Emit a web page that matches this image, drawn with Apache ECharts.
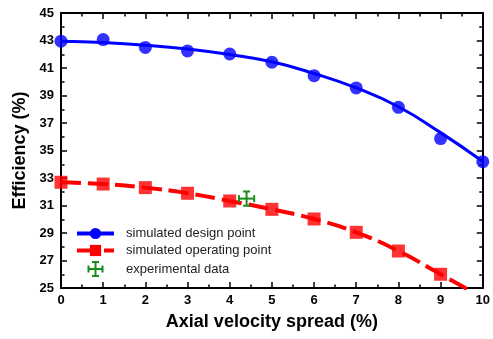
<!DOCTYPE html>
<html>
<head>
<meta charset="utf-8">
<script src="https://cdn.jsdelivr.net/npm/echarts@6/dist/echarts.min.js"></script>
<style>
  html, body { margin: 0; padding: 0; background: #fff; }
  #chart { width: 493px; height: 339px; }
</style>
</head>
<body>
<div id="chart"></div>
<script>
const spread = [0, 1, 2, 3, 4, 5, 6, 7, 8, 9, 10];
const designPoints = [42.95, 43.07, 42.5, 42.24, 42.02, 41.42, 40.44, 39.55, 38.14, 35.87, 34.19];
const designFit = [42.95, 42.85, 42.66, 42.38, 41.98, 41.45, 40.6, 39.55, 38.18, 36.3, 34.2];
const operatingPoints = [32.69, 32.56, 32.3, 31.89, 31.33, 30.72, 30.02, 29.05, 27.69, 26.0];
const operatingLine = [32.69, 32.56, 32.3, 31.89, 31.33, 30.72, 30.02, 29.05, 27.69, 26.0, 24.3];
// [x, y, x error, y error]
const experimental = [[4.4, 31.5, 0.18, 0.52]];

const FONT = '"Liberation Sans", Arial, sans-serif';
const BLUE = '#0000ff';
const RED = '#ff0000';
const GREEN = '#1a8c1a';

const chart = echarts.init(document.getElementById('chart'), null, { renderer: 'canvas' });

const pairs = (xs, ys) => ys.map((v, i) => [xs[i], v]);

// boxed frame: every side gets inward major + minor ticks
const tickAxis = () => ({
  axisLine: { onZero: false, lineStyle: { color: '#000', width: 2 } },
  axisTick: { show: true, inside: true, length: 6, lineStyle: { color: '#000', width: 1.5 } },
  minorTick: { show: true, splitNumber: 2, length: 3.5, lineStyle: { color: '#000', width: 1.5 } },
  splitLine: { show: false },
  minorSplitLine: { show: false }
});

const option = {
  backgroundColor: '#fff',
  animation: false,
  grid: { left: 61, right: 6, top: 13, bottom: 51 },
  xAxis: [
    {
      type: 'value', min: 0, max: 10, interval: 1,
      ...tickAxis(),
      axisLabel: { color: '#000', fontFamily: FONT, fontSize: 13, fontWeight: 'bold', margin: 6 },
      name: 'Axial velocity spread (%)',
      nameLocation: 'middle',
      nameGap: 25,
      nameTextStyle: { color: '#000', fontFamily: FONT, fontSize: 18, fontWeight: 'bold' }
    },
    {
      type: 'value', min: 0, max: 10, interval: 1, position: 'top',
      ...tickAxis(),
      axisLabel: { show: false }
    }
  ],
  yAxis: [
    {
      type: 'value', min: 25, max: 45, interval: 2,
      ...tickAxis(),
      axisLabel: { color: '#000', fontFamily: FONT, fontSize: 13, fontWeight: 'bold', margin: 7 },
      name: 'Efficiency (%)',
      nameLocation: 'middle',
      nameGap: 30,
      nameTextStyle: { color: '#000', fontFamily: FONT, fontSize: 18, fontWeight: 'bold' }
    },
    {
      type: 'value', min: 25, max: 45, interval: 2, position: 'right',
      ...tickAxis(),
      axisLabel: { show: false }
    }
  ],
  legend: {
    orient: 'vertical',
    left: 70,
    top: 222,
    itemWidth: 37,
    itemHeight: 14,
    itemGap: 4,
    selectedMode: false,
    textStyle: { color: '#222', fontFamily: FONT, fontSize: 13, padding: [0, 0, 0, 7] },
    data: [
      { name: 'simulated design point', lineStyle: { width: 4 } },
      { name: 'simulated operating point', lineStyle: { width: 4 } },
      {
        name: 'experimental data',
        icon: 'path://M0,7H14M7,0V14M0,3.5V10.5M14,3.5V10.5M3.5,0H10.5M3.5,14H10.5',
        itemStyle: { color: 'rgba(0,0,0,0)', borderColor: GREEN, borderWidth: 2 }
      }
    ]
  },
  series: [
    {
      name: 'simulated design point',
      type: 'line',
      data: pairs(spread, designFit),
      smooth: true,
      symbol: 'circle',
      showSymbol: false,
      color: BLUE,
      lineStyle: { color: BLUE, width: 3 },
      z: 2
    },
    {
      name: 'design markers',
      type: 'scatter',
      data: pairs(spread, designPoints),
      symbol: 'circle',
      symbolSize: 13,
      clip: false,
      itemStyle: { color: BLUE },
      z: 4
    },
    {
      name: 'simulated operating point',
      type: 'line',
      data: pairs(spread, operatingLine),
      smooth: true,
      symbol: 'rect',
      showSymbol: false,
      color: RED,
      lineStyle: { color: RED, width: 4, type: [20, 7] },
      z: 2
    },
    {
      name: 'operating markers',
      type: 'scatter',
      data: pairs(spread, operatingPoints),
      symbol: 'rect',
      symbolSize: 13,
      clip: false,
      itemStyle: { color: RED },
      z: 4
    },
    {
      name: 'experimental data',
      type: 'custom',
      data: experimental,
      color: GREEN,
      z: 5,
      renderItem: (params, api) => {
        const x = api.value(0), y = api.value(1), ex = api.value(2), ey = api.value(3);
        const left = api.coord([x - ex, y]);
        const right = api.coord([x + ex, y]);
        const top = api.coord([x, y + ey]);
        const bottom = api.coord([x, y - ey]);
        const cap = 3.5;
        const style = { stroke: GREEN, lineWidth: 2, fill: null };
        const seg = (x1, y1, x2, y2) => ({ type: 'line', shape: { x1, y1, x2, y2 }, style });
        return {
          type: 'group',
          children: [
            seg(left[0], left[1], right[0], right[1]),
            seg(top[0], top[1], bottom[0], bottom[1]),
            seg(left[0], left[1] - cap, left[0], left[1] + cap),
            seg(right[0], right[1] - cap, right[0], right[1] + cap),
            seg(top[0] - cap, top[1], top[0] + cap, top[1]),
            seg(bottom[0] - cap, bottom[1], bottom[0] + cap, bottom[1])
          ]
        };
      }
    }
  ]
};

chart.setOption(option);
</script>
</body>
</html>
